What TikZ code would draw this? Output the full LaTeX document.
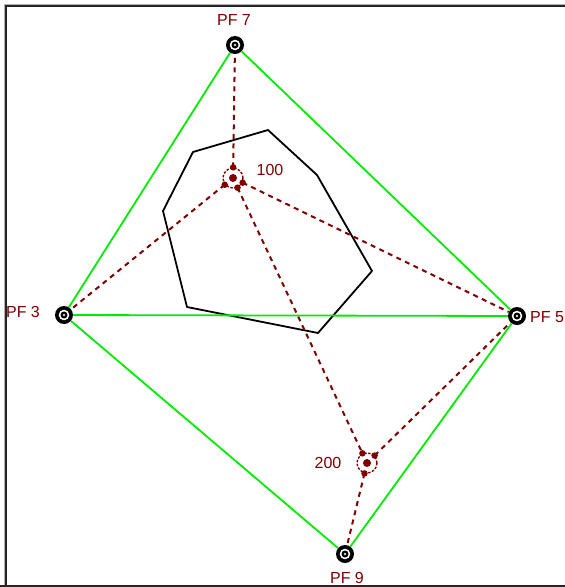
\documentclass[tikz,border=0pt]{standalone}
\usepackage{fontspec}
\setmainfont{Liberation Sans}
\definecolor{dkred}{RGB}{128,0,0}
\definecolor{lime}{RGB}{0,235,0}
\begin{document}
\begin{tikzpicture}[x=1pt,y=-1pt,
  pf/.style={circle,fill=black,minimum size=18pt,inner sep=0pt,
    path picture={
      \fill[white] (path picture bounding box.center) circle (5.3pt);
      \fill[black] (path picture bounding box.center) circle (3.5pt);
      \fill[gray!30] (path picture bounding box.center) circle (1.4pt);}},
  site/.style={circle,draw=dkred,line width=1.4pt,dash pattern=on 2.5pt off 1.5pt,
    minimum size=20pt,inner sep=0pt,
    path picture={\fill[dkred] (path picture bounding box.center) circle (4pt);}},
  reddot/.style={circle,fill=dkred,minimum size=6.5pt,inner sep=0pt},
  lbl/.style={text=dkred,font=\fontsize{16}{18}\selectfont,inner sep=0pt},
  green/.style={draw=lime,line width=1.8pt},
  redline/.style={draw=dkred,line width=2pt,dash pattern=on 5pt off 4.5pt},
  poly/.style={draw=black,line width=1.8pt,line join=round}]
\useasboundingbox (0,0) rectangle (565,587);
\fill[white] (0,0) rectangle (565,587);
% frame
\draw[gray!60,line width=1pt] (4.5,587) -- (4.5,4.5) -- (565,4.5);
\draw[black!85,line width=2pt] (6.2,587) -- (6.2,6.2) -- (565,6.2);
\draw[black!85,line width=2pt] (0,586) -- (565,586);
% polygon
\draw[poly] (268,130) -- (193,152) -- (163,211) -- (187,307) -- (318,333) -- (372,271) -- (317,175) -- cycle;
% nodes
\node[pf] (pf7) at (235,45) {};
\node[pf] (pf3) at (64,315) {};
\node[pf] (pf5) at (517,316) {};
\node[pf] (pf9) at (345,554) {};
\node[site] (s100) at (233,178) {};
\node[site] (s200) at (367,463) {};
% labels
\node[lbl] (l7) at (234,20) {PF 7};
\node[lbl] (l3) at (23,312) {PF 3};
\node[lbl,anchor=west] (l5) at (530,317) {PF 5};
\node[lbl] (l9) at (347,578) {PF 9};
\node[lbl] (l100) at (270,170) {100};
\node[lbl] (l200) at (328,463) {200};
% green connectors
\draw[green] (pf7) -- (pf3);
\draw[green] (pf7) -- (pf5);
\draw[green] (pf3) -- (pf5);
\draw[green] (pf3) -- (pf9);
\draw[green] (pf5) -- (pf9);
% red dashed connectors
\draw[redline] (s100) -- (pf7) node[reddot,pos=0]{};
\draw[redline] (s100) -- (pf3) node[reddot,pos=0]{};
\draw[redline] (s100) -- (pf5) node[reddot,pos=0]{};
\draw[redline] (s100) -- (s200) node[reddot,pos=0]{} node[reddot,pos=1]{};
\draw[redline] (s200) -- (pf5) node[reddot,pos=0]{};
\draw[redline] (s200) -- (pf9) node[reddot,pos=0]{};
\end{tikzpicture}
\end{document}
